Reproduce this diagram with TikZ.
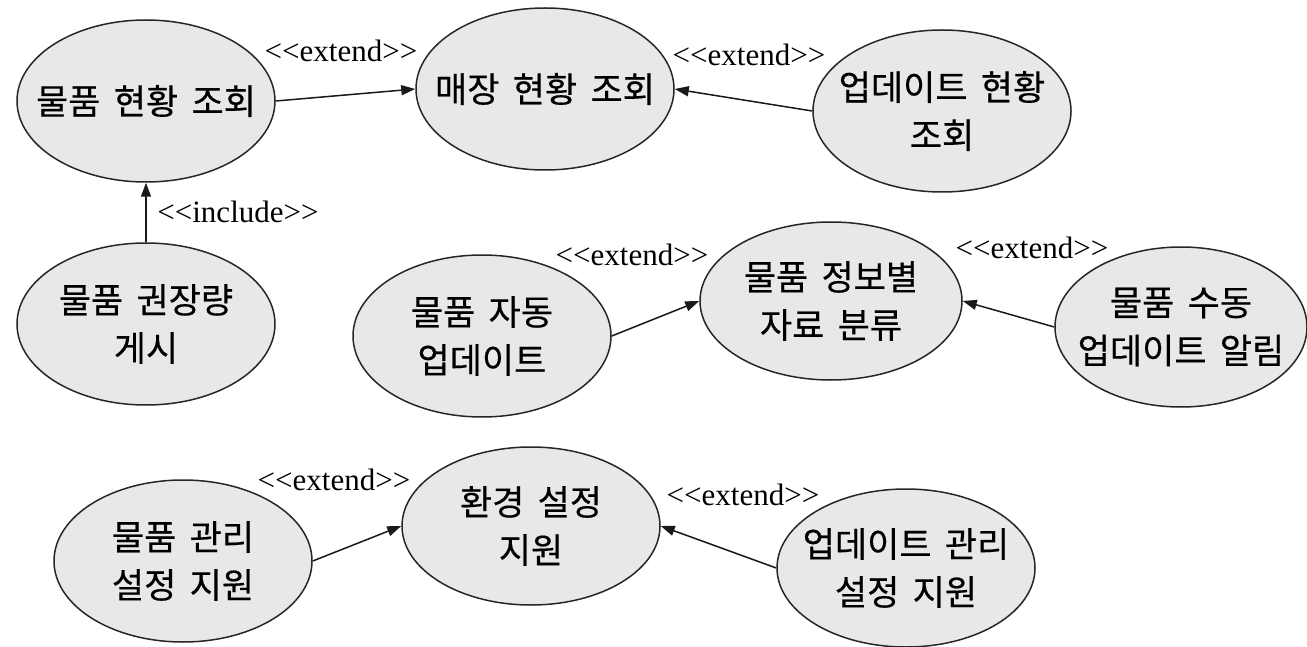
\documentclass[tikz,border=0pt]{standalone}
\usepackage{fontspec}
\newfontfamily\lblfont{Liberation Serif}
\newfontfamily\kr[WordSpace=1.7,FakeBold=0.4]{Noto Sans CJK KR}
\usetikzlibrary{shapes.geometric,arrows.meta}
\tikzset{
  uc/.style={ellipse, draw=black!85, line width=1.5pt, fill=black!9, minimum width=258pt,
    minimum height=162pt, inner sep=0pt},
  uctext/.style={inner sep=0pt, align=center, font=\kr\fontsize{35}{48}\selectfont},
  rel/.style={-{Triangle[length=14pt,width=10pt]}, line width=1.5pt, draw=black!90},
  lbl/.style={font=\lblfont\fontsize{31}{36}\selectfont, inner sep=0pt}
}
\begin{document}
\begin{tikzpicture}[x=1pt,y=-1pt]
\useasboundingbox (0,0) rectangle (1307,647);
\node[uc, label={[uctext]center:물품 현황 조회}] (e1) at (146,101) {};
\node[uc, label={[uctext]center:매장 현황 조회}] (e2) at (545,89) {};
\node[uc, label={[uctext]center:업데이트 현황\\조회}] (e3) at (942,111) {};
\node[uc, label={[uctext]center:물품 권장량\\게시}] (e4) at (146,324) {};
\node[uc, label={[uctext]center:물품 자동\\업데이트}] (e5) at (482,336) {};
\node[uc, minimum width=262pt, minimum height=158pt, label={[uctext]center:물품 정보별\\자료 분류}] (e6) at (831,301) {};
\node[uc, minimum width=252pt, minimum height=160pt, label={[uctext]center:물품 수동\\업데이트 알림}] (e7) at (1181,327) {};
\node[uc, label={[uctext]center:물품 관리\\설정 지원}] (e8) at (183,561) {};
\node[uc, minimum height=158pt, label={[uctext]center:환경 설정\\지원}] (e9) at (531,526) {};
\node[uc, minimum height=158pt, label={[uctext]center:업데이트 관리\\설정 지원}] (e10) at (906,568) {};

\draw[rel] (e1.east) -- (e2.west);
\draw[rel] (e3.west) -- (e2.east);
\draw[rel] (e4.north) -- (e1.south);
\draw[rel] (e5.east) -- (e6.west);
\draw[rel] (e7.west) -- (e6.east);
\draw[rel] (e8.east) -- (e9.west);
\draw[rel] (e10.west) -- (e9.east);

\node[lbl] (l1) at (341,51) {<<extend>>};
\node[lbl] (l2) at (749,55) {<<extend>>};
\node[lbl] (l3) at (238,212) {<<include>>};
\node[lbl] (l4) at (632,255) {<<extend>>};
\node[lbl] (l5) at (1032,248) {<<extend>>};
\node[lbl] (l6) at (334,480) {<<extend>>};
\node[lbl] (l7) at (743,495) {<<extend>>};
\end{tikzpicture}
\end{document}
